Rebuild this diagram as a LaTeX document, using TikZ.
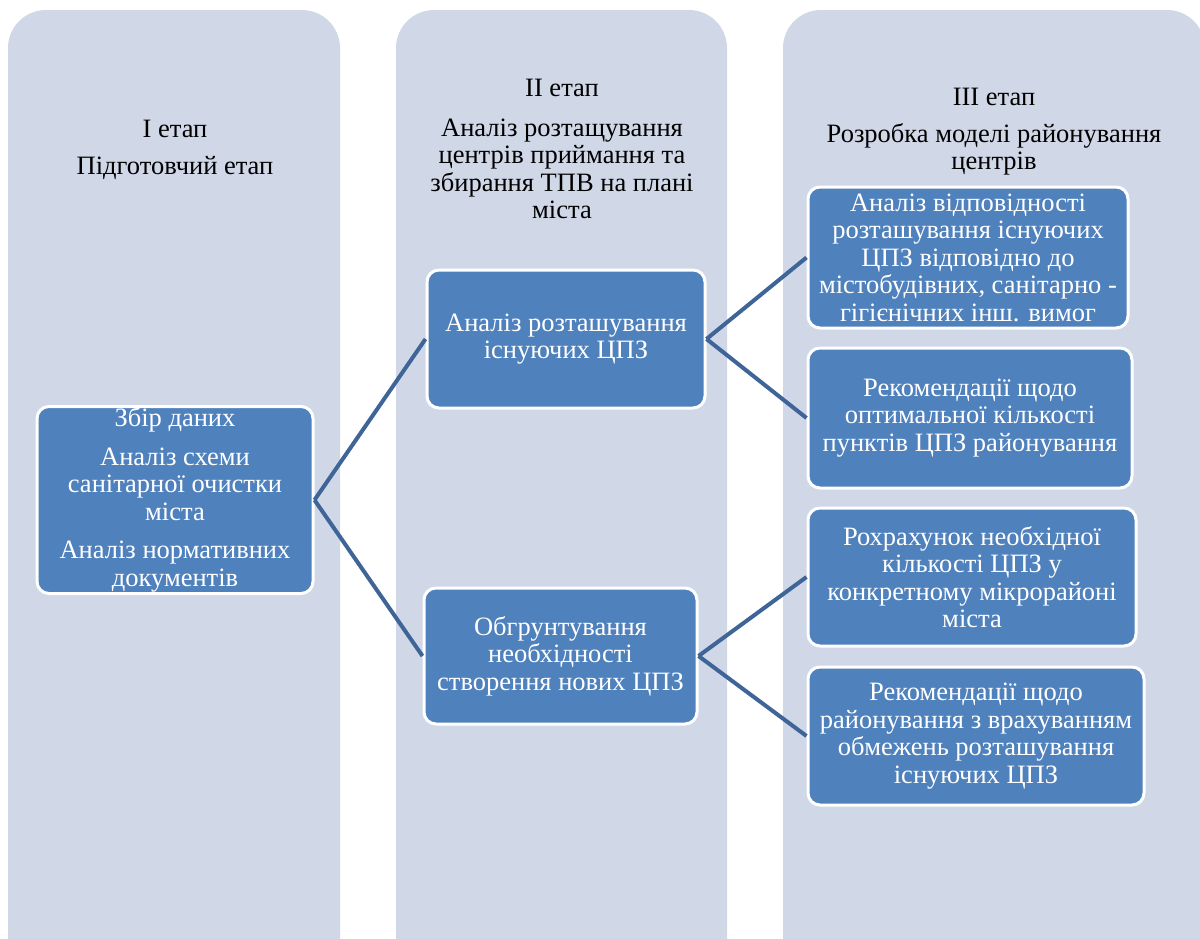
\documentclass[tikz,border=0pt]{standalone}
\usepackage{fontspec}
\setmainfont{Liberation Serif}
\newfontfamily\tnr{Liberation Serif}
\definecolor{colbg}{HTML}{D0D8E8}
\definecolor{nodeblue}{HTML}{4F81BD}
\definecolor{linkblue}{HTML}{3F6598}
\tikzset{
  colbox/.style={fill=colbg, rounded corners=38pt},
  stepbox/.style={fill=nodeblue, draw=white, line width=3pt, rounded corners=12pt,
    text=white, align=center, inner sep=1pt, font=\tnr\fontsize{26.5}{27.5}\selectfont},
  headtxt/.style={align=center, text=black, font=\tnr\fontsize{26.5}{27.5}\selectfont},
  link/.style={draw=linkblue, line width=4pt}
}
\begin{document}
\begin{tikzpicture}[x=1pt,y=1pt]
\useasboundingbox (0,0) rectangle (1200,-938);
\clip (0,0) rectangle (1200,-938);
% columns
\path[colbox] (8,-980) rectangle (340,-10);
\path[colbox] (396,-980) rectangle (727,-10);
\path[colbox] (783,-980) rectangle (1205,-10);
% headers
\node[headtxt] (h1) at (175,-150) {I етап\\[9pt]Підготовчий етап};
\node[headtxt] (h2) at (562,-149) {II етап\\[12pt]Аналіз розтащування\\центрів приймання та\\збирання ТПВ на плані\\міста};
\node[headtxt] (h3) at (994,-132) {III етап\\[9pt]Розробка моделі районування\\центрів};
% nodes
\node[stepbox, minimum width=276pt, minimum height=187pt] (n1) at (175,-500)
  {Збір даних\\[11pt]Аналіз схеми\\санітарної очистки\\міста\\[11pt]Аналіз нормативних\\документів};
\node[stepbox, minimum width=278pt, minimum height=138pt] (n2) at (566,-339)
  {Аналіз розташування\\існуючих ЦПЗ};
\node[stepbox, minimum width=273pt, minimum height=136pt] (n3) at (560.5,-656)
  {Обгрунтування\\необхідності\\створення нових ЦПЗ};
\node[stepbox, minimum width=320pt, minimum height=141pt] (n4) at (968,-257.5)
  {Аналіз відповідності\\розташування існуючих\\ЦПЗ відповідно до\\містобудівних, санітарно -\\гігієнічних інш. вимог};
\node[stepbox, minimum width=324pt, minimum height=140pt] (n5) at (970,-418)
  {Рекомендації щодо\\оптимальної кількості\\пунктів ЦПЗ районування};
\node[stepbox, minimum width=328pt, minimum height=138pt] (n6) at (972,-577)
  {Рохрахунок необхідної\\кількості ЦПЗ у\\конкретному мікрорайоні\\міста};
\node[stepbox, minimum width=336pt, minimum height=138pt] (n7) at (976,-736)
  {Рекомендації щодо\\районування з врахуванням\\обмежень розташування\\існуючих ЦПЗ};
% connectors
\draw[link] (n1.east) -- (n2.west);
\draw[link] (n1.east) -- (n3.west);
\draw[link] (n2.east) -- (n4.west);
\draw[link] (n2.east) -- (n5.west);
\draw[link] (n3.east) -- (n6.west);
\draw[link] (n3.east) -- (n7.west);
\end{tikzpicture}
\end{document}
